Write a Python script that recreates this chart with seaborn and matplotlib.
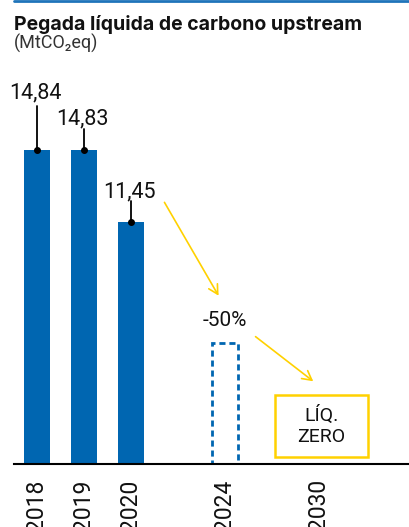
import matplotlib
matplotlib.use("Agg")
import matplotlib.pyplot as plt
from matplotlib.lines import Line2D
from matplotlib.patches import Rectangle
import seaborn as sns
import pandas as pd

# ---- data ----
years = ["2018", "2019", "2020", "2024", "2030"]
actual_years = ["2018", "2019", "2020"]
actual_values = [14.84, 14.83, 11.45]
value_labels = ["14,84", "14,83", "11,45"]
target_year = "2024"
target_value = 5.7
target_label = "-50%"
goal_label = "LÍQ.\nZERO"
title = "Pegada líquida de carbono upstream"
subtitle = "(MtCO₂eq)"

# ---- layout ----
slot = {"2018": 0, "2019": 1, "2020": 2, "2024": 4, "2030": 6}
BLUE = "#0066B1"
YELLOW = "#FFD100"
FONT = ["Roboto", "DejaVu Sans"]
HEAD_FONT = ["Inter", "Roboto", "DejaVu Sans"]

sns.set_theme(style="white")
plt.rcParams["font.family"] = FONT

fig = plt.figure(figsize=(4.09, 5.27), dpi=100)
ax = fig.add_axes([14 / 409, 63 / 527, 395 / 409, 384 / 527])

df = pd.DataFrame({"pos": [slot[y] for y in actual_years], "value": actual_values})
sns.barplot(data=df, x="pos", y="value", native_scale=True, width=0.55,
            color=BLUE, saturation=1, ax=ax, edgecolor="none")

# dashed target bar
tdf = pd.DataFrame({"pos": [slot[target_year]], "value": [target_value]})
sns.barplot(data=tdf, x="pos", y="value", native_scale=True, width=0.55,
            fill=False, ax=ax, color=BLUE, linewidth=2.0, linestyle=(0, (2.2, 1.4)))
for p in ax.patches[len(actual_values):]:
    p.set_edgecolor(BLUE)
    p.set_facecolor("none")

ax.set_xlim(-0.48, 7.92)
ax.set_ylim(0, 18.15)

# value labels with leader lines
label_off = [52, 26, 24]   # px above bar top (baseline)
line_off = [44, 21, 21]
px = 18.15 / 384
for yr, v, lab, lo, lno in zip(actual_years, actual_values, value_labels, label_off, line_off):
    x = slot[yr]
    ax.plot([x, x], [v, v + lno * px], color="black", lw=1.3, zorder=4)
    ax.plot([x], [v], marker="o", ms=4, color="black", zorder=5)
    ax.text(x - 0.03, v + lo * px, lab, ha="center", va="baseline", fontsize=15.5,
            color="#111111", zorder=5)

# target label
ax.text(slot[target_year], target_value + 17 * px, target_label, ha="center",
        va="baseline", fontsize=15, color="#111111")

# arrows
arrow_kw = dict(arrowstyle="->,head_length=0.55,head_width=0.3", color=YELLOW, lw=1.2)
ax.annotate("", xy=(3.90, 7.84), xytext=(2.69, 12.48), arrowprops=arrow_kw)
ax.annotate("", xy=(5.93, 3.83), xytext=(4.61, 6.10), arrowprops=arrow_kw)

# goal box
gx = slot["2030"]
ax.add_patch(Rectangle((5.07, 0.33), 1.98, 2.93, fill=False, edgecolor=YELLOW, lw=1.8, zorder=3))
ax.text(gx + 0.06, 1.79, goal_label, ha="center", va="center", fontsize=14,
        linespacing=1.25, color="#111111", zorder=4)

# axes styling
sns.despine(ax=ax, left=True, top=True, right=True, bottom=False)
ax.spines["bottom"].set_color("black")
ax.spines["bottom"].set_linewidth(1.5)
ax.set_yticks([])
ax.set_xticks([slot[y] for y in years])
ax.set_xticklabels(years, rotation=90, fontsize=16.5, color="#111111", va="top")
ax.tick_params(axis="x", length=0, pad=11)
ax.set_xlabel("")
ax.set_ylabel("")
ax.grid(False)

# header
fig.add_artist(Line2D([14 / 409, 1], [1 - 1.2 / 527, 1 - 1.2 / 527], color="#1F74BA", lw=2.0))
fig.text(14 / 409, 1 - 29.5 / 527, title, fontsize=14, fontweight="bold", va="baseline",
         color="#111111", family=HEAD_FONT)
fig.text(14 / 409, 1 - 48.5 / 527, subtitle, fontsize=13, va="baseline", color="#333333",
         family=FONT)

fig.savefig("out.png", dpi=100)
